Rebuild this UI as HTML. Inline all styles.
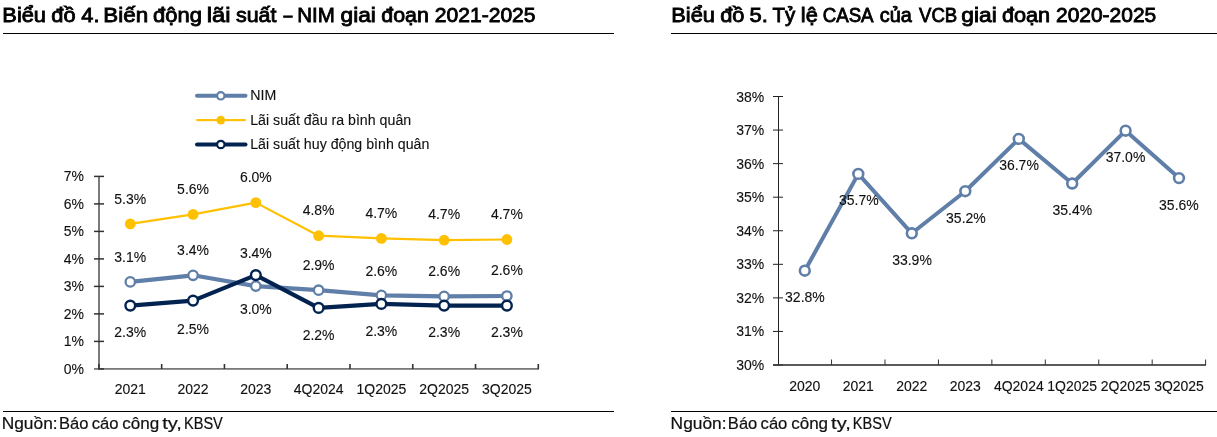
<!DOCTYPE html>
<html><head><meta charset="utf-8"><style>
html,body{margin:0;padding:0;background:#fff;width:1217px;height:437px;overflow:hidden}
svg{display:block;font-family:"Liberation Sans", sans-serif}
</style></head><body>
<svg style="will-change:transform" width="1217" height="437" viewBox="0 0 1217 437">
<rect width="1217" height="437" fill="#fff"/>
<text x="2.34" y="22.0" font-size="20.8" fill="#000" stroke="#000" stroke-width="0.85" textLength="43.66" lengthAdjust="spacingAndGlyphs">Biểu</text>
<text x="51.33" y="22.0" font-size="20.8" fill="#000" stroke="#000" stroke-width="0.85" textLength="24.27" lengthAdjust="spacingAndGlyphs">đồ</text>
<text x="81.33" y="22.0" font-size="20.8" fill="#000" stroke="#000" stroke-width="0.85" textLength="18.13" lengthAdjust="spacingAndGlyphs">4.</text>
<text x="103.39" y="22.0" font-size="20.8" fill="#000" stroke="#000" stroke-width="0.85" textLength="44.84" lengthAdjust="spacingAndGlyphs">Biến</text>
<text x="153.13" y="22.0" font-size="20.8" fill="#000" stroke="#000" stroke-width="0.85" textLength="48.78" lengthAdjust="spacingAndGlyphs">động</text>
<text x="206.71" y="22.0" font-size="20.8" fill="#000" stroke="#000" stroke-width="0.85" textLength="23.76" lengthAdjust="spacingAndGlyphs">lãi</text>
<text x="235.94" y="22.0" font-size="20.8" fill="#000" stroke="#000" stroke-width="0.85" textLength="40.54" lengthAdjust="spacingAndGlyphs">suất</text>
<text x="283.53" y="22.0" font-size="20.8" fill="#000" stroke="#000" stroke-width="0.85" textLength="8.90" lengthAdjust="spacingAndGlyphs">–</text>
<text x="297.25" y="22.0" font-size="20.8" fill="#000" stroke="#000" stroke-width="0.85" textLength="37.53" lengthAdjust="spacingAndGlyphs">NIM</text>
<text x="340.49" y="22.0" font-size="20.8" fill="#000" stroke="#000" stroke-width="0.85" textLength="35.42" lengthAdjust="spacingAndGlyphs">giai</text>
<text x="381.25" y="22.0" font-size="20.8" fill="#000" stroke="#000" stroke-width="0.85" textLength="47.52" lengthAdjust="spacingAndGlyphs">đoạn</text>
<text x="434.77" y="22.0" font-size="20.8" fill="#000" stroke="#000" stroke-width="0.85" textLength="100.80" lengthAdjust="spacingAndGlyphs">2021-2025</text>
<text x="671.24" y="22.0" font-size="20.8" fill="#000" stroke="#000" stroke-width="0.85" textLength="43.66" lengthAdjust="spacingAndGlyphs">Biểu</text>
<text x="720.23" y="22.0" font-size="20.8" fill="#000" stroke="#000" stroke-width="0.85" textLength="24.27" lengthAdjust="spacingAndGlyphs">đồ</text>
<text x="749.42" y="22.0" font-size="20.8" fill="#000" stroke="#000" stroke-width="0.85" textLength="18.36" lengthAdjust="spacingAndGlyphs">5.</text>
<text x="772.55" y="22.0" font-size="20.8" fill="#000" stroke="#000" stroke-width="0.85" textLength="22.72" lengthAdjust="spacingAndGlyphs">Tỷ</text>
<text x="800.84" y="22.0" font-size="20.8" fill="#000" stroke="#000" stroke-width="0.85" textLength="16.96" lengthAdjust="spacingAndGlyphs">lệ</text>
<text x="822.69" y="22.0" font-size="20.8" fill="#000" stroke="#000" stroke-width="0.85" textLength="50.86" lengthAdjust="spacingAndGlyphs">CASA</text>
<text x="879.71" y="22.0" font-size="20.8" fill="#000" stroke="#000" stroke-width="0.85" textLength="32.00" lengthAdjust="spacingAndGlyphs">của</text>
<text x="919.02" y="22.0" font-size="20.8" fill="#000" stroke="#000" stroke-width="0.85" textLength="38.26" lengthAdjust="spacingAndGlyphs">VCB</text>
<text x="961.29" y="22.0" font-size="20.8" fill="#000" stroke="#000" stroke-width="0.85" textLength="35.42" lengthAdjust="spacingAndGlyphs">giai</text>
<text x="1001.94" y="22.0" font-size="20.8" fill="#000" stroke="#000" stroke-width="0.85" textLength="48.25" lengthAdjust="spacingAndGlyphs">đoạn</text>
<text x="1055.98" y="22.0" font-size="20.8" fill="#000" stroke="#000" stroke-width="0.85" textLength="100.29" lengthAdjust="spacingAndGlyphs">2020-2025</text>
<text x="1.71" y="428.7" font-size="16.3" fill="#111" stroke="#111" stroke-width="0.2" textLength="55.91" lengthAdjust="spacingAndGlyphs">Nguồn:</text>
<text x="58.97" y="428.7" font-size="16.3" fill="#111" stroke="#111" stroke-width="0.2" textLength="29.41" lengthAdjust="spacingAndGlyphs">Báo</text>
<text x="91.68" y="428.7" font-size="16.3" fill="#111" stroke="#111" stroke-width="0.2" textLength="26.80" lengthAdjust="spacingAndGlyphs">cáo</text>
<text x="122.27" y="428.7" font-size="16.3" fill="#111" stroke="#111" stroke-width="0.2" textLength="36.94" lengthAdjust="spacingAndGlyphs">công</text>
<text x="162.15" y="428.7" font-size="16.3" fill="#111" stroke="#111" stroke-width="0.2" textLength="19.73" lengthAdjust="spacingAndGlyphs">ty,</text>
<text x="183.93" y="428.7" font-size="16.3" fill="#111" stroke="#111" stroke-width="0.2" textLength="38.93" lengthAdjust="spacingAndGlyphs">KBSV</text>
<text x="670.61" y="428.7" font-size="16.3" fill="#111" stroke="#111" stroke-width="0.2" textLength="55.91" lengthAdjust="spacingAndGlyphs">Nguồn:</text>
<text x="727.87" y="428.7" font-size="16.3" fill="#111" stroke="#111" stroke-width="0.2" textLength="29.41" lengthAdjust="spacingAndGlyphs">Báo</text>
<text x="760.58" y="428.7" font-size="16.3" fill="#111" stroke="#111" stroke-width="0.2" textLength="26.80" lengthAdjust="spacingAndGlyphs">cáo</text>
<text x="791.17" y="428.7" font-size="16.3" fill="#111" stroke="#111" stroke-width="0.2" textLength="36.94" lengthAdjust="spacingAndGlyphs">công</text>
<text x="831.05" y="428.7" font-size="16.3" fill="#111" stroke="#111" stroke-width="0.2" textLength="19.73" lengthAdjust="spacingAndGlyphs">ty,</text>
<text x="852.83" y="428.7" font-size="16.3" fill="#111" stroke="#111" stroke-width="0.2" textLength="38.93" lengthAdjust="spacingAndGlyphs">KBSV</text>
<rect x="3" y="33" width="611" height="1" fill="#000"/>
<rect x="671" y="33" width="546" height="1" fill="#000"/>
<rect x="3" y="411" width="611" height="1" fill="#000"/>
<rect x="671" y="411" width="546" height="1" fill="#000"/>
<rect x="98" y="176" width="2" height="193" fill="#7a7a7a"/>
<rect x="94" y="368" width="445" height="1.8" fill="#7a7a7a"/>
<rect x="98" y="368.15" width="6" height="1.5" fill="#333"/>
<text transform="translate(84.00,373.60) scale(0.9174,1)" font-size="15.26" fill="#111" stroke="#111" stroke-width="0.12" text-anchor="end">0%</text>
<rect x="94" y="340.65" width="10" height="1.5" fill="#333"/>
<text transform="translate(84.00,346.10) scale(0.9174,1)" font-size="15.26" fill="#111" stroke="#111" stroke-width="0.12" text-anchor="end">1%</text>
<rect x="94" y="313.15" width="10" height="1.5" fill="#333"/>
<text transform="translate(84.00,318.60) scale(0.9174,1)" font-size="15.26" fill="#111" stroke="#111" stroke-width="0.12" text-anchor="end">2%</text>
<rect x="94" y="285.65" width="10" height="1.5" fill="#333"/>
<text transform="translate(84.00,291.10) scale(0.9174,1)" font-size="15.26" fill="#111" stroke="#111" stroke-width="0.12" text-anchor="end">3%</text>
<rect x="94" y="258.15" width="10" height="1.5" fill="#333"/>
<text transform="translate(84.00,263.60) scale(0.9174,1)" font-size="15.26" fill="#111" stroke="#111" stroke-width="0.12" text-anchor="end">4%</text>
<rect x="94" y="230.65" width="10" height="1.5" fill="#333"/>
<text transform="translate(84.00,236.10) scale(0.9174,1)" font-size="15.26" fill="#111" stroke="#111" stroke-width="0.12" text-anchor="end">5%</text>
<rect x="94" y="203.15" width="10" height="1.5" fill="#333"/>
<text transform="translate(84.00,208.60) scale(0.9174,1)" font-size="15.26" fill="#111" stroke="#111" stroke-width="0.12" text-anchor="end">6%</text>
<rect x="94" y="175.65" width="10" height="1.5" fill="#333"/>
<text transform="translate(84.00,181.10) scale(0.9174,1)" font-size="15.26" fill="#111" stroke="#111" stroke-width="0.12" text-anchor="end">7%</text>
<rect x="98.10" y="364" width="1.6" height="5" fill="#333"/>
<rect x="160.87" y="364" width="1.6" height="5" fill="#333"/>
<rect x="223.64" y="364" width="1.6" height="5" fill="#333"/>
<rect x="286.41" y="364" width="1.6" height="5" fill="#333"/>
<rect x="349.18" y="364" width="1.6" height="5" fill="#333"/>
<rect x="411.95" y="364" width="1.6" height="5" fill="#333"/>
<rect x="474.72" y="364" width="1.6" height="5" fill="#333"/>
<rect x="537.49" y="364" width="1.6" height="5" fill="#333"/>
<text transform="translate(130.28,394.30) scale(0.9174,1)" font-size="15.26" fill="#111" stroke="#111" stroke-width="0.12" text-anchor="middle">2021</text>
<text transform="translate(193.06,394.30) scale(0.9174,1)" font-size="15.26" fill="#111" stroke="#111" stroke-width="0.12" text-anchor="middle">2022</text>
<text transform="translate(255.83,394.30) scale(0.9174,1)" font-size="15.26" fill="#111" stroke="#111" stroke-width="0.12" text-anchor="middle">2023</text>
<text transform="translate(318.60,394.30) scale(0.9174,1)" font-size="15.26" fill="#111" stroke="#111" stroke-width="0.12" text-anchor="middle">4Q2024</text>
<text transform="translate(381.37,394.30) scale(0.9174,1)" font-size="15.26" fill="#111" stroke="#111" stroke-width="0.12" text-anchor="middle">1Q2025</text>
<text transform="translate(444.13,394.30) scale(0.9174,1)" font-size="15.26" fill="#111" stroke="#111" stroke-width="0.12" text-anchor="middle">2Q2025</text>
<text transform="translate(506.90,394.30) scale(0.9174,1)" font-size="15.26" fill="#111" stroke="#111" stroke-width="0.12" text-anchor="middle">3Q2025</text>
<polyline points="130.28,223.90 193.06,214.40 255.83,202.60 318.60,235.70 381.37,238.40 444.13,240.20 506.90,239.50" fill="none" stroke="#ffc000" stroke-width="2.2" stroke-linejoin="round"/>
<polyline points="130.28,281.90 193.06,275.30 255.83,286.10 318.60,290.20 381.37,295.30 444.13,296.40 506.90,296.00" fill="none" stroke="#5f7ea8" stroke-width="4.2" stroke-linejoin="round"/>
<polyline points="130.28,305.60 193.06,300.60 255.83,275.10 318.60,307.90 381.37,303.90 444.13,305.60 506.90,305.60" fill="none" stroke="#022250" stroke-width="4.2" stroke-linejoin="round"/>
<circle cx="130.28" cy="223.9" r="5.4" fill="#ffc000"/>
<circle cx="193.06" cy="214.4" r="5.4" fill="#ffc000"/>
<circle cx="255.83" cy="202.6" r="5.4" fill="#ffc000"/>
<circle cx="318.60" cy="235.7" r="5.4" fill="#ffc000"/>
<circle cx="381.37" cy="238.4" r="5.4" fill="#ffc000"/>
<circle cx="444.13" cy="240.2" r="5.4" fill="#ffc000"/>
<circle cx="506.90" cy="239.5" r="5.4" fill="#ffc000"/>
<circle cx="130.28" cy="281.9" r="4.7" fill="#fff" stroke="#5f7ea8" stroke-width="2.3"/>
<circle cx="193.06" cy="275.3" r="4.7" fill="#fff" stroke="#5f7ea8" stroke-width="2.3"/>
<circle cx="255.83" cy="286.1" r="4.7" fill="#fff" stroke="#5f7ea8" stroke-width="2.3"/>
<circle cx="318.60" cy="290.2" r="4.7" fill="#fff" stroke="#5f7ea8" stroke-width="2.3"/>
<circle cx="381.37" cy="295.3" r="4.7" fill="#fff" stroke="#5f7ea8" stroke-width="2.3"/>
<circle cx="444.13" cy="296.4" r="4.7" fill="#fff" stroke="#5f7ea8" stroke-width="2.3"/>
<circle cx="506.90" cy="296.0" r="4.7" fill="#fff" stroke="#5f7ea8" stroke-width="2.3"/>
<circle cx="130.28" cy="305.6" r="4.85" fill="#fff" stroke="#022250" stroke-width="2.4"/>
<circle cx="193.06" cy="300.6" r="4.85" fill="#fff" stroke="#022250" stroke-width="2.4"/>
<circle cx="255.83" cy="275.1" r="4.85" fill="#fff" stroke="#022250" stroke-width="2.4"/>
<circle cx="318.60" cy="307.9" r="4.85" fill="#fff" stroke="#022250" stroke-width="2.4"/>
<circle cx="381.37" cy="303.9" r="4.85" fill="#fff" stroke="#022250" stroke-width="2.4"/>
<circle cx="444.13" cy="305.6" r="4.85" fill="#fff" stroke="#022250" stroke-width="2.4"/>
<circle cx="506.90" cy="305.6" r="4.85" fill="#fff" stroke="#022250" stroke-width="2.4"/>
<text transform="translate(130.28,203.80) scale(0.9174,1)" font-size="15.26" fill="#111" stroke="#111" stroke-width="0.12" text-anchor="middle">5.3%</text>
<text transform="translate(193.06,194.20) scale(0.9174,1)" font-size="15.26" fill="#111" stroke="#111" stroke-width="0.12" text-anchor="middle">5.6%</text>
<text transform="translate(255.83,182.30) scale(0.9174,1)" font-size="15.26" fill="#111" stroke="#111" stroke-width="0.12" text-anchor="middle">6.0%</text>
<text transform="translate(318.60,215.30) scale(0.9174,1)" font-size="15.26" fill="#111" stroke="#111" stroke-width="0.12" text-anchor="middle">4.8%</text>
<text transform="translate(381.37,218.20) scale(0.9174,1)" font-size="15.26" fill="#111" stroke="#111" stroke-width="0.12" text-anchor="middle">4.7%</text>
<text transform="translate(444.13,219.20) scale(0.9174,1)" font-size="15.26" fill="#111" stroke="#111" stroke-width="0.12" text-anchor="middle">4.7%</text>
<text transform="translate(506.90,219.20) scale(0.9174,1)" font-size="15.26" fill="#111" stroke="#111" stroke-width="0.12" text-anchor="middle">4.7%</text>
<text transform="translate(130.28,262.10) scale(0.9174,1)" font-size="15.26" fill="#111" stroke="#111" stroke-width="0.12" text-anchor="middle">3.1%</text>
<text transform="translate(193.06,255.30) scale(0.9174,1)" font-size="15.26" fill="#111" stroke="#111" stroke-width="0.12" text-anchor="middle">3.4%</text>
<text transform="translate(255.83,313.80) scale(0.9174,1)" font-size="15.26" fill="#111" stroke="#111" stroke-width="0.12" text-anchor="middle">3.0%</text>
<text transform="translate(318.60,270.10) scale(0.9174,1)" font-size="15.26" fill="#111" stroke="#111" stroke-width="0.12" text-anchor="middle">2.9%</text>
<text transform="translate(381.37,275.90) scale(0.9174,1)" font-size="15.26" fill="#111" stroke="#111" stroke-width="0.12" text-anchor="middle">2.6%</text>
<text transform="translate(444.13,275.80) scale(0.9174,1)" font-size="15.26" fill="#111" stroke="#111" stroke-width="0.12" text-anchor="middle">2.6%</text>
<text transform="translate(506.90,274.60) scale(0.9174,1)" font-size="15.26" fill="#111" stroke="#111" stroke-width="0.12" text-anchor="middle">2.6%</text>
<text transform="translate(130.28,337.30) scale(0.9174,1)" font-size="15.26" fill="#111" stroke="#111" stroke-width="0.12" text-anchor="middle">2.3%</text>
<text transform="translate(193.06,333.60) scale(0.9174,1)" font-size="15.26" fill="#111" stroke="#111" stroke-width="0.12" text-anchor="middle">2.5%</text>
<text transform="translate(255.83,258.40) scale(0.9174,1)" font-size="15.26" fill="#111" stroke="#111" stroke-width="0.12" text-anchor="middle">3.4%</text>
<text transform="translate(318.60,340.20) scale(0.9174,1)" font-size="15.26" fill="#111" stroke="#111" stroke-width="0.12" text-anchor="middle">2.2%</text>
<text transform="translate(381.37,336.40) scale(0.9174,1)" font-size="15.26" fill="#111" stroke="#111" stroke-width="0.12" text-anchor="middle">2.3%</text>
<text transform="translate(444.13,337.30) scale(0.9174,1)" font-size="15.26" fill="#111" stroke="#111" stroke-width="0.12" text-anchor="middle">2.3%</text>
<text transform="translate(506.90,337.30) scale(0.9174,1)" font-size="15.26" fill="#111" stroke="#111" stroke-width="0.12" text-anchor="middle">2.3%</text>
<rect x="195" y="93.80" width="52.5" height="4" fill="#5f7ea8" rx="2.0"/>
<circle cx="220.8" cy="95.8" r="3.7" fill="#fff" stroke="#5f7ea8" stroke-width="2.2"/>
<text transform="translate(250.20,100.30) scale(0.9174,1)" font-size="15.48" fill="#111" stroke="#111" stroke-width="0.12" text-anchor="start">NIM</text>
<rect x="196.3" y="119.05" width="49.4" height="2.1" fill="#ffc000"/>
<circle cx="220.8" cy="120.1" r="4.4" fill="#ffc000"/>
<text transform="translate(250.20,124.60) scale(0.9174,1)" font-size="15.48" fill="#111" stroke="#111" stroke-width="0.12" text-anchor="start">Lãi suất đầu ra bình quân</text>
<rect x="195" y="142.50" width="52.5" height="4" fill="#022250" rx="2.0"/>
<circle cx="220.8" cy="144.5" r="3.7" fill="#fff" stroke="#022250" stroke-width="2.2"/>
<text transform="translate(250.20,149.00) scale(0.9174,1)" font-size="15.48" fill="#111" stroke="#111" stroke-width="0.12" text-anchor="start">Lãi suất huy động bình quân</text>
<rect x="778" y="96" width="1" height="269" fill="#222"/>
<rect x="773" y="364.50" width="10" height="1" fill="#222"/>
<text transform="translate(764.30,370.00) scale(0.9174,1)" font-size="15.26" fill="#111" stroke="#111" stroke-width="0.12" text-anchor="end">30%</text>
<rect x="773" y="330.94" width="10" height="1" fill="#222"/>
<text transform="translate(764.30,336.44) scale(0.9174,1)" font-size="15.26" fill="#111" stroke="#111" stroke-width="0.12" text-anchor="end">31%</text>
<rect x="773" y="297.38" width="10" height="1" fill="#222"/>
<text transform="translate(764.30,302.88) scale(0.9174,1)" font-size="15.26" fill="#111" stroke="#111" stroke-width="0.12" text-anchor="end">32%</text>
<rect x="773" y="263.81" width="10" height="1" fill="#222"/>
<text transform="translate(764.30,269.31) scale(0.9174,1)" font-size="15.26" fill="#111" stroke="#111" stroke-width="0.12" text-anchor="end">33%</text>
<rect x="773" y="230.25" width="10" height="1" fill="#222"/>
<text transform="translate(764.30,235.75) scale(0.9174,1)" font-size="15.26" fill="#111" stroke="#111" stroke-width="0.12" text-anchor="end">34%</text>
<rect x="773" y="196.69" width="10" height="1" fill="#222"/>
<text transform="translate(764.30,202.19) scale(0.9174,1)" font-size="15.26" fill="#111" stroke="#111" stroke-width="0.12" text-anchor="end">35%</text>
<rect x="773" y="163.12" width="10" height="1" fill="#222"/>
<text transform="translate(764.30,168.62) scale(0.9174,1)" font-size="15.26" fill="#111" stroke="#111" stroke-width="0.12" text-anchor="end">36%</text>
<rect x="773" y="129.56" width="10" height="1" fill="#222"/>
<text transform="translate(764.30,135.06) scale(0.9174,1)" font-size="15.26" fill="#111" stroke="#111" stroke-width="0.12" text-anchor="end">37%</text>
<rect x="773" y="96.00" width="10" height="1" fill="#222"/>
<text transform="translate(764.30,101.50) scale(0.9174,1)" font-size="15.26" fill="#111" stroke="#111" stroke-width="0.12" text-anchor="end">38%</text>
<rect x="773" y="364.2" width="433" height="1.6" fill="#333"/>
<rect x="831.04" y="359.5" width="1" height="5.5" fill="#333"/>
<rect x="884.48" y="359.5" width="1" height="5.5" fill="#333"/>
<rect x="937.92" y="359.5" width="1" height="5.5" fill="#333"/>
<rect x="991.36" y="359.5" width="1" height="5.5" fill="#333"/>
<rect x="1044.80" y="359.5" width="1" height="5.5" fill="#333"/>
<rect x="1098.24" y="359.5" width="1" height="5.5" fill="#333"/>
<rect x="1151.68" y="359.5" width="1" height="5.5" fill="#333"/>
<rect x="1205.12" y="359.5" width="1" height="5.5" fill="#333"/>
<text transform="translate(804.80,390.80) scale(0.9174,1)" font-size="15.26" fill="#111" stroke="#111" stroke-width="0.12" text-anchor="middle">2020</text>
<text transform="translate(858.30,390.80) scale(0.9174,1)" font-size="15.26" fill="#111" stroke="#111" stroke-width="0.12" text-anchor="middle">2021</text>
<text transform="translate(911.80,390.80) scale(0.9174,1)" font-size="15.26" fill="#111" stroke="#111" stroke-width="0.12" text-anchor="middle">2022</text>
<text transform="translate(965.30,390.80) scale(0.9174,1)" font-size="15.26" fill="#111" stroke="#111" stroke-width="0.12" text-anchor="middle">2023</text>
<text transform="translate(1018.80,390.80) scale(0.9174,1)" font-size="15.26" fill="#111" stroke="#111" stroke-width="0.12" text-anchor="middle">4Q2024</text>
<text transform="translate(1072.20,390.80) scale(0.9174,1)" font-size="15.26" fill="#111" stroke="#111" stroke-width="0.12" text-anchor="middle">1Q2025</text>
<text transform="translate(1125.60,390.80) scale(0.9174,1)" font-size="15.26" fill="#111" stroke="#111" stroke-width="0.12" text-anchor="middle">2Q2025</text>
<text transform="translate(1179.00,390.80) scale(0.9174,1)" font-size="15.26" fill="#111" stroke="#111" stroke-width="0.12" text-anchor="middle">3Q2025</text>
<polyline points="804.80,270.70 858.30,173.90 911.80,233.30 965.30,191.20 1018.80,138.90 1072.20,183.50 1125.60,130.70 1179.00,178.10" fill="none" stroke="#5f7ea8" stroke-width="4.0" stroke-linejoin="round"/>
<circle cx="804.80" cy="270.7" r="4.9" fill="#fff" stroke="#5f7ea8" stroke-width="2.6"/>
<circle cx="858.30" cy="173.9" r="4.9" fill="#fff" stroke="#5f7ea8" stroke-width="2.6"/>
<circle cx="911.80" cy="233.3" r="4.9" fill="#fff" stroke="#5f7ea8" stroke-width="2.6"/>
<circle cx="965.30" cy="191.2" r="4.9" fill="#fff" stroke="#5f7ea8" stroke-width="2.6"/>
<circle cx="1018.80" cy="138.9" r="4.9" fill="#fff" stroke="#5f7ea8" stroke-width="2.6"/>
<circle cx="1072.20" cy="183.5" r="4.9" fill="#fff" stroke="#5f7ea8" stroke-width="2.6"/>
<circle cx="1125.60" cy="130.7" r="4.9" fill="#fff" stroke="#5f7ea8" stroke-width="2.6"/>
<circle cx="1179.00" cy="178.1" r="4.9" fill="#fff" stroke="#5f7ea8" stroke-width="2.6"/>
<text transform="translate(804.90,302.00) scale(0.9174,1)" font-size="15.26" fill="#111" stroke="#111" stroke-width="0.12" text-anchor="middle">32.8%</text>
<text transform="translate(858.80,205.40) scale(0.9174,1)" font-size="15.26" fill="#111" stroke="#111" stroke-width="0.12" text-anchor="middle">35.7%</text>
<text transform="translate(912.00,264.90) scale(0.9174,1)" font-size="15.26" fill="#111" stroke="#111" stroke-width="0.12" text-anchor="middle">33.9%</text>
<text transform="translate(965.90,222.90) scale(0.9174,1)" font-size="15.26" fill="#111" stroke="#111" stroke-width="0.12" text-anchor="middle">35.2%</text>
<text transform="translate(1019.00,170.10) scale(0.9174,1)" font-size="15.26" fill="#111" stroke="#111" stroke-width="0.12" text-anchor="middle">36.7%</text>
<text transform="translate(1072.30,215.30) scale(0.9174,1)" font-size="15.26" fill="#111" stroke="#111" stroke-width="0.12" text-anchor="middle">35.4%</text>
<text transform="translate(1125.50,161.80) scale(0.9174,1)" font-size="15.26" fill="#111" stroke="#111" stroke-width="0.12" text-anchor="middle">37.0%</text>
<text transform="translate(1178.90,210.30) scale(0.9174,1)" font-size="15.26" fill="#111" stroke="#111" stroke-width="0.12" text-anchor="middle">35.6%</text>
</svg></body></html>
